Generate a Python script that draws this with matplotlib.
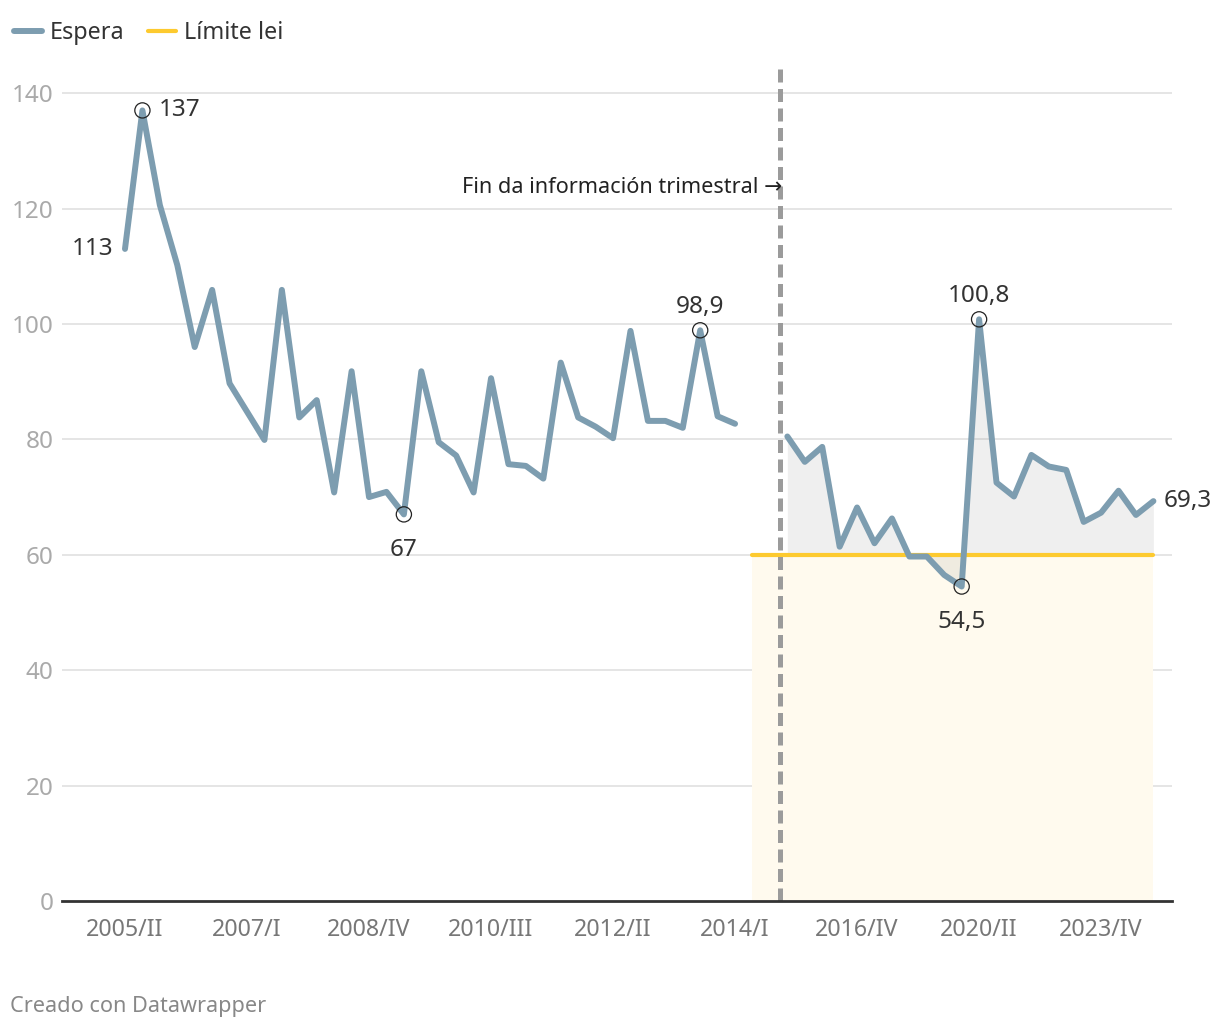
import matplotlib
matplotlib.use("Agg")
import matplotlib.pyplot as plt
import numpy as np

# categories: quarterly until 2014/I, then two empty slots, then half-yearly
categorias = [
    "2005/II", "2005/III", "2005/IV", "2006/I", "2006/II", "2006/III", "2006/IV",
    "2007/I", "2007/II", "2007/III", "2007/IV", "2008/I", "2008/II", "2008/III",
    "2008/IV", "2009/I", "2009/II", "2009/III", "2009/IV", "2010/I", "2010/II",
    "2010/III", "2010/IV", "2011/I", "2011/II", "2011/III", "2011/IV", "2012/I",
    "2012/II", "2012/III", "2012/IV", "2013/I", "2013/II", "2013/III", "2013/IV",
    "2014/I", "2014/II", "2014/III",
    "2014/IV", "2015/II", "2015/IV", "2016/II", "2016/IV", "2017/II", "2017/IV",
    "2018/II", "2018/IV", "2019/II", "2019/IV", "2020/II", "2020/IV", "2021/II",
    "2021/IV", "2022/II", "2022/IV", "2023/II", "2023/IV", "2024/II", "2024/IV",
    "2025/II",
]

espera_trimestral = [
    113, 137, 120.6, 110.2, 96.0, 105.9, 89.7, 84.8, 79.9, 105.9,
    83.8, 86.8, 70.8, 91.8, 70.0, 70.9, 67, 91.8, 79.5, 77.2,
    70.8, 90.6, 75.7, 75.4, 73.2, 93.3, 83.8, 82.2, 80.2, 98.8,
    83.2, 83.2, 82.0, 98.9, 84.0, 82.7,
]
espera_semestral = [
    80.5, 76.1, 78.7, 61.4, 68.2, 62.0, 66.3, 59.7, 59.7, 56.5,
    54.5, 100.8, 72.5, 70.1, 77.3, 75.3, 74.7, 65.7, 67.3, 71.1,
    66.9, 69.3,
]
limite_lei = 60

# labelled points: (index, text, ha, va, dx, dy)  offsets in points
etiquetas = [
    (0, "113", "right", "center", -8, 0),
    (1, "137", "left", "center", 12, 0),
    (16, "67", "center", "top", 0, -17),
    (33, "98,9", "center", "bottom", 0, 8),
    (48, "54,5", "center", "top", 0, -17),
    (49, "100,8", "center", "bottom", 0, 8),
    (59, "69,3", "left", "center", 7, 0),
]
marcados = [1, 16, 33, 48, 49]

plt.rcParams["font.family"] = ["Noto Sans", "DejaVu Sans"]

AZUL = "#7d9db0"
AMARELO = "#fdca2f"

n_tri = len(espera_trimestral)
n = len(categorias)
inicio_sem = n - len(espera_semestral)
espera = np.full(n, np.nan)
espera[:n_tri] = espera_trimestral
espera[inicio_sem:] = espera_semestral
x = np.arange(n)

fig = plt.figure(figsize=(12.2, 10.28), dpi=100)
ax = fig.add_axes([0.0508, 0.1235, 0.9099, 0.814])

# yellow zone under the legal limit
ax.fill_between([n_tri, n - 1], 0, limite_lei, color="#fffaee", lw=0, zorder=1)
# grey area between series and limit
xs = x[inicio_sem:]
ax.fill_between(xs, espera[inicio_sem:], limite_lei, color="#888888",
                alpha=0.13, lw=0, zorder=2)

for v in range(20, 141, 20):
    ax.plot([-3.615, 60.07], [v, v], color="#e3e3e3", lw=1.3, zorder=0.5)

ax.plot([n_tri, n - 1], [limite_lei, limite_lei], color=AMARELO, lw=3,
        solid_capstyle="round", zorder=3, label="Límite lei")
ax.plot(x, espera, color=AZUL, lw=4.3, solid_capstyle="round",
        solid_joinstyle="round", zorder=4, label="Espera")

ax.scatter(x[marcados], espera[marcados], s=120, facecolors="none",
           edgecolors="#222222", linewidths=0.9, zorder=5)

for i, txt, ha, va, dx, dy in etiquetas:
    ax.annotate(txt, (x[i], espera[i]), xytext=(dx, dy), textcoords="offset points",
                ha=ha, va=va, fontsize=17.5, color="#333333", zorder=6)

# end of quarterly data
ax.axvline(37.6, color="#9b9b9b", lw=3.6, dashes=(2.6, 1.3), zorder=4.5)
ax.text(37.7, 123.6, "Fin da información trimestral →", ha="right", va="center",
        fontsize=15.6, color="#222222", zorder=6)

ax.set_xlim(-3.615, 60.07)
ax.set_ylim(0, 145)
ax.set_xticks(x[::7])
ax.set_xticklabels([categorias[i] for i in x[::7]])
ax.set_yticks(range(0, 141, 20))
ax.tick_params(axis="both", length=0, labelsize=16.7, labelcolor="#777777")
ax.tick_params(axis="x", pad=12)
ax.tick_params(axis="y", pad=6, labelsize=17.5)
for lab in ax.get_yticklabels():
    lab.set_color("#aaaaaa")
for s in ["top", "right", "left"]:
    ax.spines[s].set_visible(False)
ax.spines["bottom"].set_color("#333333")
ax.spines["bottom"].set_linewidth(2)
ax.spines["bottom"].set_zorder(7)

handles, labels = ax.get_legend_handles_labels()
leg = fig.legend(handles[::-1], labels[::-1], loc="upper left",
                 bbox_to_anchor=(0.0, 0.993), ncol=2, frameon=False,
                 fontsize=16.8, handlelength=1.2, handletextpad=0.35,
                 columnspacing=1.0, borderaxespad=0.2)
for t in leg.get_texts():
    t.set_color("#333333")

fig.text(0.008, 0.021, "Creado con Datawrapper", fontsize=15.6, color="#888888",
         ha="left", va="center")

fig.savefig("out.png", dpi=100, facecolor="white")
